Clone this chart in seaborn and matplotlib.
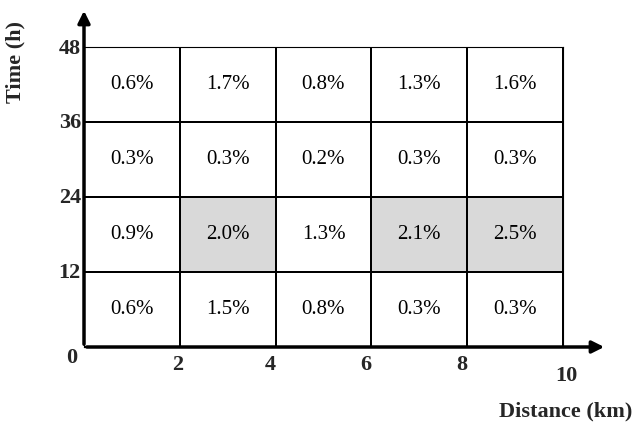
import numpy as np
import pandas as pd
import matplotlib
matplotlib.use('Agg')
import matplotlib.pyplot as plt
import seaborn as sns
from matplotlib.colors import ListedColormap

# rows from top (36-48 h) to bottom (0-12 h), columns 0-2 ... 8-10 km
rate = [
    [0.6, 1.7, 0.8, 1.3, 1.6],
    [0.3, 0.3, 0.2, 0.3, 0.3],
    [0.9, 2.0, 1.3, 2.1, 2.5],
    [0.6, 1.5, 0.8, 0.3, 0.3],
]
shaded = [
    [0, 0, 0, 0, 0],
    [0, 0, 0, 0, 0],
    [0, 1, 0, 1, 1],
    [0, 0, 0, 0, 0],
]
x_ticks = ['0', '2', '4', '6', '8', '10']
y_ticks = ['48', '36', '24', '12']

sns.set_style('white')
plt.rcParams['font.family'] = ['Liberation Serif', 'DejaVu Serif']

W, H = 636, 425
fig = plt.figure(figsize=(W / 100, H / 100), dpi=100)
ax = fig.add_axes([84 / W, 1 - 347 / H, 479 / W, 300 / H])

labels = np.array([[f'{v:.1f}%' for v in row] for row in rate])
sns.heatmap(pd.DataFrame(shaded), ax=ax, cmap=ListedColormap(['white', '#d9d9d9']),
            vmin=0, vmax=1, cbar=False, annot=labels, fmt='',
            annot_kws={'fontsize': 15, 'color': 'black'},
            linewidths=1.2, linecolor='black')
ax.set_xticks([])
ax.set_yticks([])
ax.set_xlabel('')
ax.set_ylabel('')
for s in ax.spines.values():
    s.set_visible(True)
    s.set_color('black')

def px(x, y):
    return (x / W, 1 - y / H)

# axis arrows
fig.add_artist(matplotlib.patches.FancyArrowPatch(px(84, 347), px(84, 8), transform=fig.transFigure,
               arrowstyle='-|>', mutation_scale=18, lw=2.5, color='black'))
fig.add_artist(matplotlib.patches.FancyArrowPatch(px(84, 347), px(607, 347), transform=fig.transFigure,
               arrowstyle='-|>', mutation_scale=18, lw=2.5, color='black'))

bold = dict(fontsize=16, fontweight='bold', ha='center', va='center')
xpos = [(72, 358), (178, 365), (270, 365), (366, 365), (462, 365), (566, 376)]
for (x, y), t in zip(xpos, x_ticks):
    fig.text(*px(x, y), t, **bold)
for i, t in enumerate(y_ticks):
    fig.text(*px(81, 49 + i * 74.5), t, fontsize=16, fontweight='bold', ha='right', va='center')
fig.text(*px(15, 62), 'Time (h)', rotation=90, **bold)
fig.text(*px(566, 411), 'Distance (km)', **bold)

fig.savefig('out.png', dpi=100)
